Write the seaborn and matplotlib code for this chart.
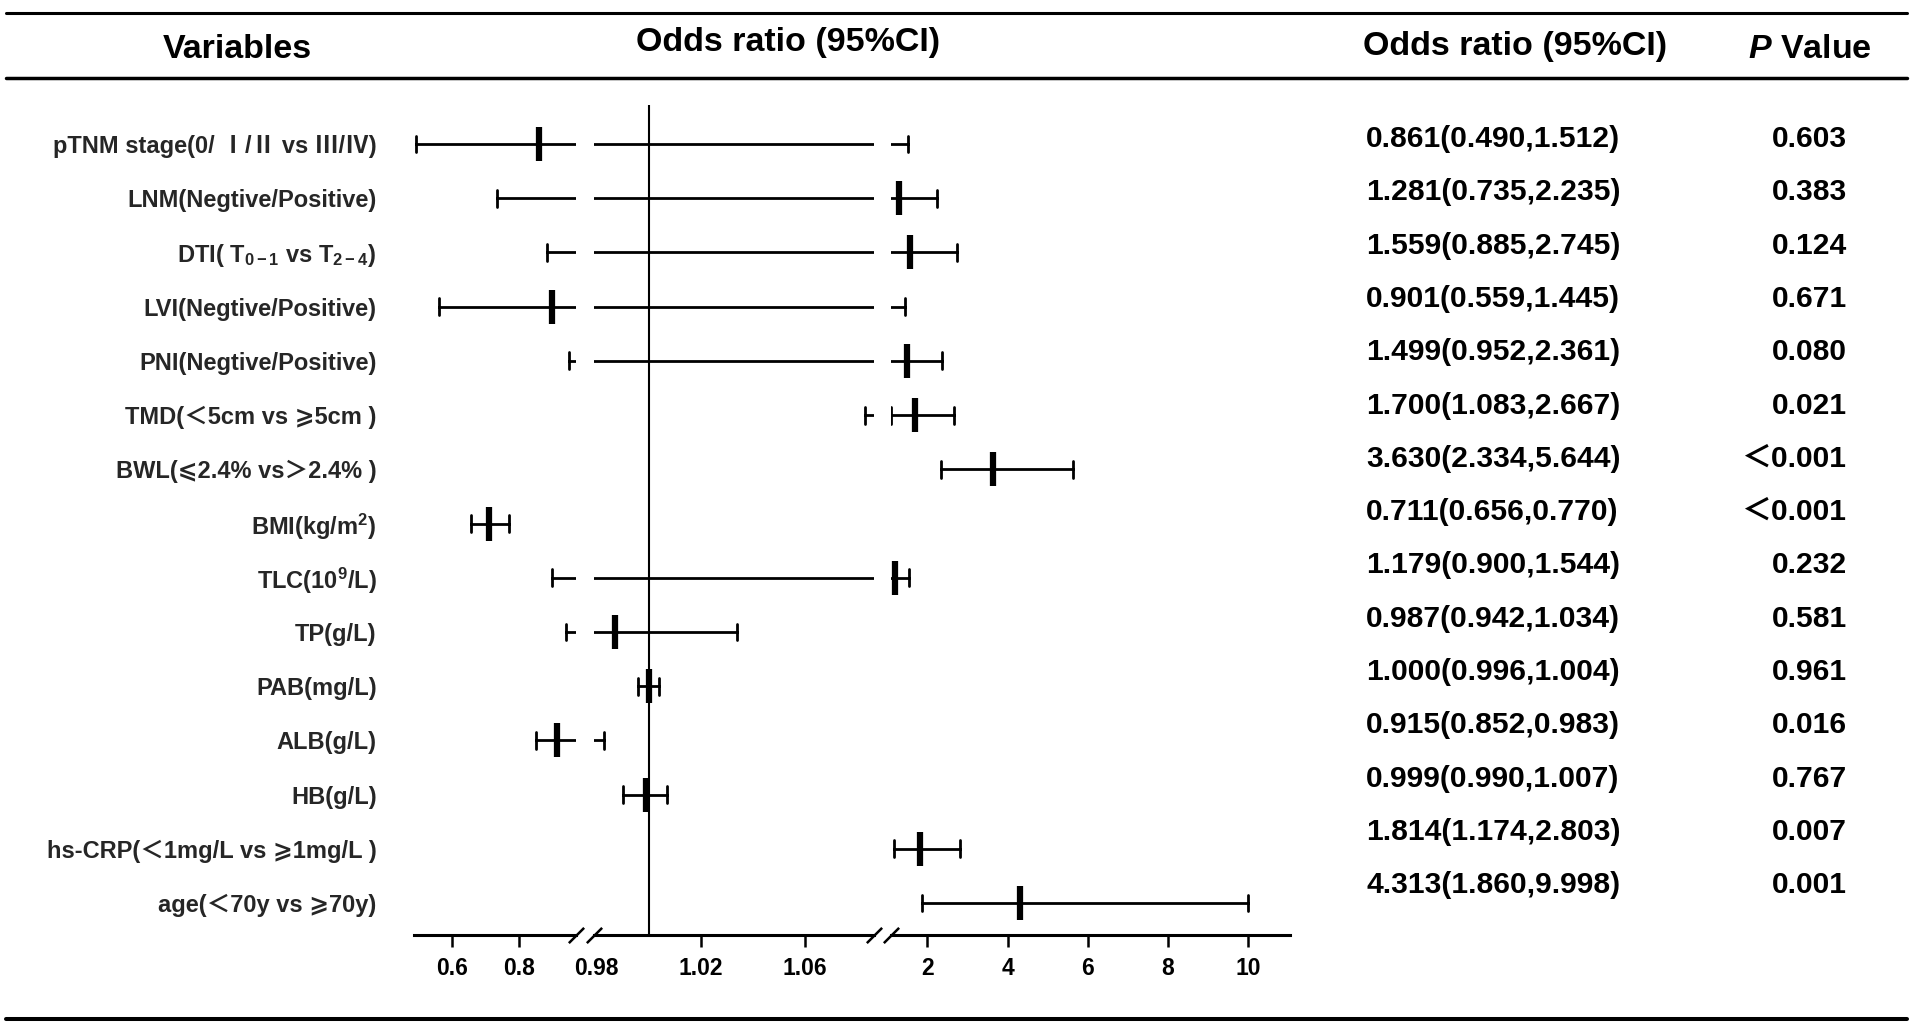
import numpy as np
import pandas as pd
import matplotlib
matplotlib.use('Agg')
import matplotlib.pyplot as plt
from matplotlib.lines import Line2D
import seaborn as sns

# ------------------- data -------------------
labels = [
    'pTNM stage(0/ Ⅰ/Ⅱ vs Ⅲ/Ⅳ)',
    'LNM(Negtive/Positive)',
    r'DTI( T$_{0-1}$ vs T$_{2-4}$)',
    'LVI(Negtive/Positive)',
    'PNI(Negtive/Positive)',
    'TMD(＜5cm vs ⩾5cm )',
    'BWL(⩽2.4% vs＞2.4% )',
    r'BMI(kg/m$^{2}$)',
    r'TLC(10$^{9}$/L)',
    'TP(g/L)',
    'PAB(mg/L)',
    'ALB(g/L)',
    'HB(g/L)',
    'hs-CRP(＜1mg/L vs ⩾1mg/L )',
    'age(＜70y vs ⩾70y)',
]
odds = [0.861, 1.281, 1.559, 0.901, 1.499, 1.700, 3.630, 0.711, 1.179,
        0.987, 1.000, 0.915, 0.999, 1.814, 4.313]
ci_low = [0.490, 0.735, 0.885, 0.559, 0.952, 1.083, 2.334, 0.656, 0.900,
          0.942, 0.996, 0.852, 0.990, 1.174, 1.860]
ci_high = [1.512, 2.235, 2.745, 1.445, 2.361, 2.667, 5.644, 0.770, 1.544,
           1.034, 1.004, 0.983, 1.007, 2.803, 9.998]
p_text = ['0.603', '0.383', '0.124', '0.671', '0.080', '0.021', '＜0.001',
          '＜0.001', '0.232', '0.581', '0.961', '0.016', '0.767', '0.007',
          '0.001']

left_ticks = [0.6, 0.8]
mid_ticks = [0.98, 1.02, 1.06]
right_ticks = [2, 4, 6, 8, 10]

# long form: lower, estimate, upper per variable -> median + full range
df = pd.DataFrame({
    'variable': np.repeat(labels, 3),
    'value': np.column_stack([ci_low, odds, ci_high]).ravel(),
})

# ------------------- style -------------------
sns.set_theme(style='ticks')
plt.rcParams['font.family'] = ['Liberation Sans', 'Noto Sans CJK SC', 'DejaVu Sans']
plt.rcParams['font.weight'] = 'bold'
plt.rcParams['mathtext.fontset'] = 'custom'
plt.rcParams['mathtext.rm'] = 'Liberation Sans:bold'
plt.rcParams['mathtext.it'] = 'Liberation Sans:italic:bold'
plt.rcParams['mathtext.bf'] = 'Liberation Sans:bold'
plt.rcParams['mathtext.default'] = 'rm'
plt.rcParams['text.color'] = 'black'
plt.rcParams['xtick.color'] = 'black'

W, H = 1910, 1029
fig = plt.figure(figsize=(W / 100, H / 100), dpi=100)
fig.patch.set_facecolor('white')

# broken x axis: (xlim, pixel left, pixel right, ticks)
top_px, bot_px = 105, 935
segments = [
    ((0.485, 0.972), 414, 576, left_ticks),
    ((0.979, 1.0865), 594, 874, mid_ticks),
    ((1.09, 11.05), 891, 1290, right_ticks),
]

axes = []
for (xlim, x0, x1, ticks) in segments:
    ax = fig.add_axes([x0 / W, 1 - bot_px / H, (x1 - x0) / W, (bot_px - top_px) / H])
    sns.pointplot(data=df, x='value', y='variable', orient='h',
                  estimator='median', errorbar=('pi', 100),
                  color='black', linestyle='none', marker='|',
                  markersize=25, markeredgewidth=4.5, capsize=0.31,
                  err_kws={'linewidth': 2.0, 'color': 'black'}, ax=ax)
    ax.set_xlim(*xlim)
    ax.set_ylim(14.59, -0.72)
    ax.set(xlabel='', ylabel='')
    ax.set_xticks(ticks)
    ax.set_xticklabels([f'{t:g}' for t in ticks])
    ax.tick_params(axis='x', length=8.6, width=1.8, pad=7, labelsize=16.5,
                   direction='out')
    for s in ['top', 'right', 'left']:
        ax.spines[s].set_visible(False)
    ax.spines['bottom'].set_linewidth(2.2)
    ax.spines['bottom'].set_color('black')
    ax.set_facecolor('none')
    axes.append(ax)

ax_l, ax_m, ax_r = axes
ax_l.tick_params(axis='y', length=0, pad=27, labelsize=17)
for ax in (ax_m, ax_r):
    ax.tick_params(axis='y', left=False, labelleft=False)

# 0.98 sits under the break mark
ax_m.xaxis.get_major_ticks()[0].tick1line.set_visible(False)
ax_m.axvline(1, color='black', linewidth=1.5, zorder=0)

# break marks
kw = dict(marker=[(-1, -1), (1, 1)], markersize=11, linestyle='none',
          color='black', mec='black', mew=1.8, clip_on=False)
ax_l.plot([1], [0], transform=ax_l.transAxes, **kw)
ax_m.plot([0, 1], [0, 0], transform=ax_m.transAxes, **kw)
ax_r.plot([0], [0], transform=ax_r.transAxes, **kw)

# ------------------- table columns -------------------
or_text = [f'{o:.3f}({lo:.3f},{hi:.3f})' for o, lo, hi in zip(odds, ci_low, ci_high)]
for i, (t, p) in enumerate(zip(or_text, p_text)):
    y = 1 - (139 + 53.3 * i) / H
    fig.text(1366 / W, y, t, ha='left', va='center', fontsize=21.6)
    fig.text(1847 / W, y, p, ha='right', va='center', fontsize=21.6)

# ------------------- header and rules -------------------
fig.text(237 / W, 1 - 49 / H, 'Variables', ha='center', va='center', fontsize=24.5)
fig.text(788 / W, 1 - 43 / H, 'Odds ratio (95%CI)', ha='center', va='center', fontsize=24.5)
fig.text(1515 / W, 1 - 47 / H, 'Odds ratio (95%CI)', ha='center', va='center', fontsize=24.5)
fig.text(1810 / W, 1 - 49 / H, r'$\it{P}$ Value', ha='center', va='center', fontsize=24.5)

for y_px, lw in [(13, 2.2), (78, 2.5), (1019, 2.9)]:
    fig.add_artist(Line2D([6 / W, 1907 / W], [1 - y_px / H, 1 - y_px / H],
                          transform=fig.transFigure, color='black', linewidth=lw))

fig.savefig('out.png', dpi=100, facecolor='white')
